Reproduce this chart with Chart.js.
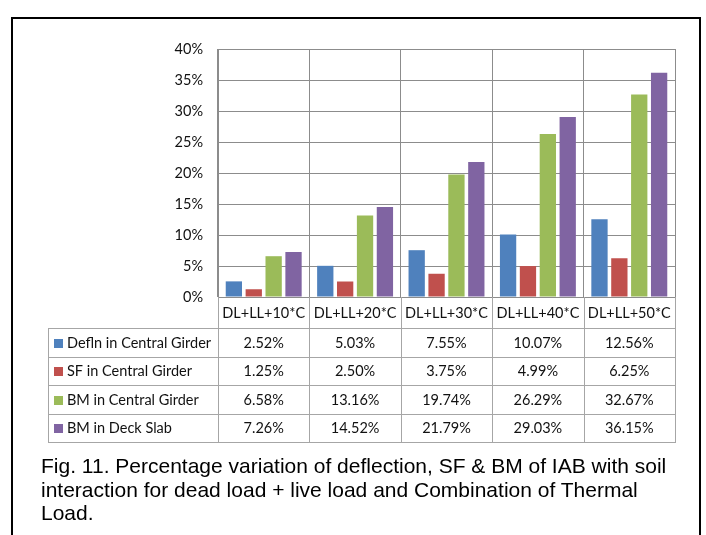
<!DOCTYPE html>
<html>
<head>
<meta charset="utf-8">
<script src="https://cdn.jsdelivr.net/npm/chart.js@4.4.0/dist/chart.umd.min.js"></script>
<style>
  html, body { margin: 0; padding: 0; background: #fff; }
  #wrap { position: relative; width: 706px; height: 535px; overflow: hidden; background: #fff; }
  #frame { position: absolute; left: 11px; top: 17px; width: 690px; height: 560px;
           border: 2px solid #000; box-sizing: border-box; }
  #c { position: absolute; left: 0; top: 0; }
  #caption { position: absolute; left: 41px; top: 454px; white-space: nowrap;
             font-family: "Liberation Sans", Arial, sans-serif; font-size: 21px;
             line-height: 23.5px; color: #000; }
</style>
</head>
<body>
<div id="wrap">
  <div id="frame"></div>
  <canvas id="c" width="706" height="535"></canvas>
  <div id="caption">Fig. 11. Percentage variation of deflection, SF &amp; BM of IAB with soil<br>interaction for dead load + live load and Combination of Thermal<br>Load.</div>
</div>
<script>
// Load cases along the x axis
const categories = ['DL+LL+10*C', 'DL+LL+20*C', 'DL+LL+30*C', 'DL+LL+40*C', 'DL+LL+50*C'];

// Percentage variation per load case (%)
const deflnCentralGirder = [2.52, 5.03, 7.55, 10.07, 12.56];
const sfCentralGirder    = [1.25, 2.50, 3.75, 4.99, 6.25];
const bmCentralGirder    = [6.58, 13.16, 19.74, 26.29, 32.67];
const bmDeckSlab         = [7.26, 14.52, 21.79, 29.03, 36.15];

const seriesNames  = ['Defln in Central Girder', 'SF in Central Girder', 'BM in Central Girder', 'BM in Deck Slab'];
const seriesValues = [deflnCentralGirder, sfCentralGirder, bmCentralGirder, bmDeckSlab];
const seriesColors = ['#4F81BD', '#C0504D', '#9BBB59', '#8064A2'];

// Value axis ticks (%)
const yTickValues = [0, 5, 10, 15, 20, 25, 30, 35, 40];

const GRID = '#8c8c8c';
const TABLE_LINE = '#a6a6a6';
const TEXT = '#111';
const TABLE_FONT = '14.5px Lato, "Open Sans", sans-serif';

function fmtPct(v) { return v.toFixed(2) + '%'; }

// Data table underneath the plot: header row of categories, then one row per series
const dataTable = {
  id: 'dataTable',
  afterDraw(chart) {
    const ctx = chart.ctx;
    const xs = chart.scales.x;
    const area = chart.chartArea;
    const n = categories.length;
    const half = (xs.getPixelForValue(1) - xs.getPixelForValue(0)) / 2;
    const headerTop = area.bottom;
    const headerBottom = 328;
    const tableBottom = 442;
    const labelLeft = 48;
    const rowH = (tableBottom - headerBottom) / seriesValues.length;
    const px = v => Math.round(v) + 0.5;

    ctx.save();
    ctx.strokeStyle = TABLE_LINE;
    ctx.lineWidth = 1;
    ctx.beginPath();
    // vertical column separators running down through the table
    for (let i = 0; i <= n; i++) {
      const x = i < n ? xs.getPixelForValue(i) - half : xs.getPixelForValue(n - 1) + half;
      ctx.moveTo(px(x), headerTop);
      ctx.lineTo(px(x), tableBottom);
    }
    ctx.moveTo(px(labelLeft), headerBottom);
    ctx.lineTo(px(labelLeft), tableBottom);
    // horizontal row rules
    for (let r = 0; r <= seriesValues.length; r++) {
      const y = headerBottom + r * rowH;
      ctx.moveTo(labelLeft, px(y));
      ctx.lineTo(area.right + 1, px(y));
    }
    ctx.stroke();

    ctx.fillStyle = TEXT;
    ctx.font = TABLE_FONT;
    ctx.textBaseline = 'middle';
    ctx.textAlign = 'center';
    const headerMid = (headerTop + headerBottom) / 2 + 1;
    categories.forEach((c, i) => ctx.fillText(c, xs.getPixelForValue(i), headerMid));

    seriesValues.forEach((vals, r) => {
      const mid = headerBottom + r * rowH + rowH / 2 + 1;
      ctx.fillStyle = seriesColors[r];
      ctx.fillRect(labelLeft + 6, Math.round(mid - 4.5), 9, 9);
      ctx.fillStyle = TEXT;
      ctx.textAlign = 'left';
      ctx.fillText(seriesNames[r], labelLeft + 19, mid);
      ctx.textAlign = 'center';
      vals.forEach((v, i) => ctx.fillText(fmtPct(v), xs.getPixelForValue(i), mid));
    });
    ctx.restore();
  }
};

new Chart(document.getElementById('c'), {
  type: 'bar',
  data: {
    labels: categories,
    datasets: seriesValues.map((vals, i) => ({
      label: seriesNames[i],
      data: vals,
      backgroundColor: seriesColors[i],
      borderWidth: 0,
      categoryPercentage: 0.87,
      barPercentage: 0.82
    }))
  },
  options: {
    responsive: false,
    animation: false,
    devicePixelRatio: 1,
    layout: { padding: { left: 0, top: 49, right: 31, bottom: 238 } },
    plugins: { legend: { display: false }, tooltip: { enabled: false } },
    scales: {
      x: {
        grid: { offset: true, color: GRID, drawTicks: false },
        border: { color: GRID },
        ticks: { display: false },
        afterFit(s) { s.height = 0; }
      },
      y: {
        min: 0, max: 40,
        afterBuildTicks(s) { s.ticks = yTickValues.map(v => ({ value: v })); },
        grid: { color: GRID, drawTicks: false },
        border: { color: GRID },
        ticks: {
          padding: 15,
          color: TEXT,
          font: { family: 'Lato, "Open Sans", sans-serif', size: 14.5 },
          callback: v => v + '%'
        },
        afterFit(s) { s.width = 218; }
      }
    }
  },
  plugins: [dataTable]
});
</script>
</body>
</html>
